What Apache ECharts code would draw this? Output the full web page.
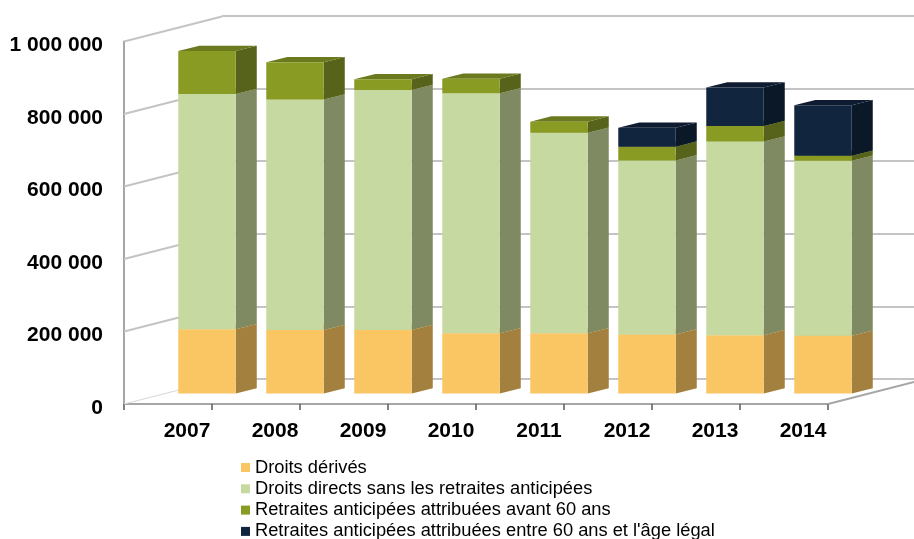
<!DOCTYPE html>
<html>
<head>
<meta charset="utf-8">
<script src="https://cdn.jsdelivr.net/npm/echarts@6/dist/echarts.min.js"></script>
<style>
html,body{margin:0;padding:0;background:#fff;}
#chart{width:914px;height:539px;}
</style>
</head>
<body>
<div id="chart"></div>
<script>
// ---- data ----
var years = ['2007','2008','2009','2010','2011','2012','2013','2014'];
var seriesNames = ['Droits dérivés','Droits directs sans les retraites anticipées','Retraites anticipées attribuées avant 60 ans',"Retraites anticipées attribuées entre 60 ans et l'âge légal"];
var droitsDerives   = [177000, 175000, 175000, 166000, 166000, 163000, 161000, 159000];
var droitsDirects   = [649000, 636000, 662000, 662000, 553000, 480000, 534000, 483000];
var avant60         = [119000, 103000, 30000, 40000, 31000, 38000, 43000, 14000];
var entre60EtLegal  = [0, 0, 0, 0, 0, 52000, 106000, 139000];
var yTicks = [0, 200000, 400000, 600000, 800000, 1000000];

// ---- styles ----
var FONT = '"Liberation Sans", Arial, sans-serif';
var faceColors = [
  {front:'#FAC663', side:'#A3803E', top:'#D9AA50'},
  {front:'#C6D9A0', side:'#7F8A62', top:'#A3B27E'},
  {front:'#8A9B24', side:'#57631A', top:'#6B7A1E'},
  {front:'#12253F', side:'#0B1828', top:'#0E1B30'}
];
var DEPTH_DX = 98, DEPTH_DY = -25;   // projection of the full floor depth
var BAR_FRONT_RATIO = 0.653, BAR_DX_RATIO = 0.239, BAR_DY = -5.3;

var seriesValues = [droitsDerives, droitsDirects, avant60, entre60EtLegal];

function fmt(v){ return String(v).replace(/\B(?=(\d{3})+(?!\d))/g, ' '); }

// stacked ranges
var cum = years.map(function(){ return 0; });
var stacked = seriesValues.map(function(vals){
  return vals.map(function(v, i){
    var lo = cum[i]; cum[i] += v;
    return [i, lo, cum[i]];
  });
});

function barRender(sIdx){
  var c = faceColors[sIdx];
  return function(params, api){
    var i = api.value(0), lo = api.value(1), hi = api.value(2);
    if (!(hi - lo > 0)) return null;
    var band = api.size([1, 0])[0];
    var w = band * BAR_FRONT_RATIO, dx = band * BAR_DX_RATIO, dy = BAR_DY;
    var pb = api.coord([i, lo]), pt = api.coord([i, hi]);
    var x0 = pb[0] - w / 2, x1 = pb[0] + w / 2, yb = pb[1], yt = pt[1];
    return {
      type: 'group',
      children: [
        {type:'polygon', shape:{points:[[x1,yb],[x1+dx,yb+dy],[x1+dx,yt+dy],[x1,yt]]}, style:{fill:c.side}},
        {type:'polygon', shape:{points:[[x0,yt],[x1,yt],[x1+dx,yt+dy],[x0+dx,yt+dy]]}, style:{fill:c.top}},
        {type:'rect', shape:{x:x0, y:yt, width:w, height:yb-yt}, style:{fill:c.front}}
      ]
    };
  };
}

// side wall / floor edges drawn on the front grid, projected backwards
function wallRender(params, api){
  var v = api.value(0);
  var cs = params.coordSys;
  var y = api.coord([0, v])[1];
  var x = cs.x;
  var lineColor = v === 0 ? '#D9D9D9' : '#C4C4C4';
  var children = [
    {type:'line', shape:{x1:x, y1:y, x2:x+DEPTH_DX, y2:y+DEPTH_DY}, style:{stroke:lineColor, lineWidth: v === 0 ? 1.2 : 2}}
  ];
  if (v === 0) {
    var xr = cs.x + cs.width;
    children.push({type:'line', shape:{x1:xr, y1:y, x2:xr+DEPTH_DX, y2:y+DEPTH_DY}, style:{stroke:'#A6A6A6', lineWidth:2}});
  }
  return {type:'group', children:children};
}

var chart = echarts.init(document.getElementById('chart'), null, {renderer:'canvas'});

var series = [
  {
    type:'custom', name:'wall', xAxisIndex:0, yAxisIndex:0, z:1, silent:true,
    renderItem: wallRender, data: yTicks.map(function(v){ return [v]; }),
    encode:{y:0}, legendHoverLink:false
  }
];
seriesValues.forEach(function(vals, s){
  series.push({
    type:'custom', name: seriesNames[s], xAxisIndex:2, yAxisIndex:2, z:5 + s,
    renderItem: barRender(s), data: stacked[s],
    encode:{x:0, y:[1,2]},
    itemStyle:{color: faceColors[s].front}
  });
});

var option = {
  backgroundColor:'#ffffff',
  animation:false,
  textStyle:{fontFamily:FONT},
  grid:[
    {left:124, right:86, top:41.5, bottom:135},      // front plane (axes)
    {left:222, right:0, top:16, bottom:160},         // back wall
    {left:163, right:47, top:31, bottom:145.5},      // bar front plane
    {left:143, right:67, top:41.5, bottom:135}       // label plane
  ],
  xAxis:[
    {gridIndex:0, type:'category', data:years, boundaryGap:true,
     axisLine:{show:true, lineStyle:{color:'#A6A6A6', width:2}},
     axisTick:{show:true, length:6, lineStyle:{color:'#595959', width:1.5}},
     axisLabel:{show:false}, splitLine:{show:false}},
    {gridIndex:1, type:'category', data:years, show:false},
    {gridIndex:2, type:'category', data:years, show:false},
    {gridIndex:3, type:'category', data:years,
     axisLine:{show:false}, axisTick:{show:false}, splitLine:{show:false},
     axisLabel:{show:true, margin:17, fontSize:21, fontWeight:'bold', color:'#000', fontFamily:FONT}}
  ],
  yAxis:[
    {gridIndex:0, type:'value', min:0, max:1000000, interval:200000,
     axisLine:{show:true, lineStyle:{color:'#A6A6A6', width:2}},
     axisTick:{show:false}, splitLine:{show:false},
     axisLabel:{show:true, margin:21, fontSize:21, fontWeight:'bold', color:'#000', fontFamily:FONT,
       verticalAlign:'top', lineHeight:8, formatter:function(v){ return fmt(v); }}},
    {gridIndex:1, type:'value', min:0, max:1000000, interval:200000,
     axisLine:{show:false}, axisTick:{show:false}, axisLabel:{show:false},
     splitLine:{show:true, lineStyle:{color:'#C4C4C4', width:2}}},
    {gridIndex:2, type:'value', min:0, max:1000000, interval:200000, show:false},
    {gridIndex:3, type:'value', min:0, max:1000000, interval:200000, show:false}
  ],
  legend:{
    data: seriesNames,
    orient:'vertical', left:241, top:457, height:100, padding:0,
    itemWidth:9, itemHeight:9, itemGap:0.3, icon:'rect',
    textStyle:{fontSize:18.3, lineHeight:21, color:'#000', fontFamily:FONT},
    selectedMode:false
  },
  series: series
};
chart.setOption(option);
</script>
</body>
</html>
